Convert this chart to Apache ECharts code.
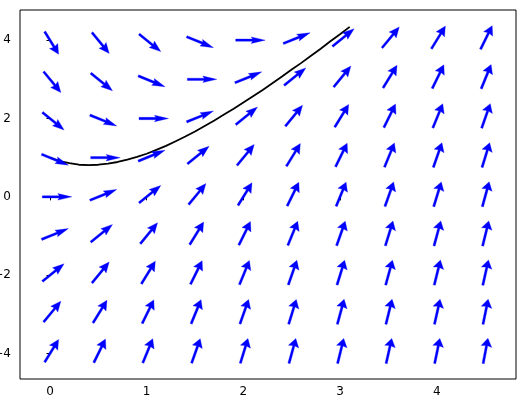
<!DOCTYPE html>
<html>
<head>
<meta charset="utf-8">
<script src="https://cdn.jsdelivr.net/npm/echarts@6/dist/echarts.min.js"></script>
<style>html,body{margin:0;padding:0;background:#fff}#c{width:520px;height:406px}</style>
</head>
<body>
<div id="c"></div>
<script>
// Grid of direction-field sample points
const gridX = [0, 0.5, 1, 1.5, 2, 2.5, 3, 3.5, 4, 4.5];
const gridY = [4, 3, 2, 1, 0, -1, -2, -3, -4];
// Slope (dy/dx) read at each grid point, one row per gridY value
const slopeRows = [
  [-4, -3, -2, -1, 0, 1, 2, 3, 4, 5],
  [-3, -2, -1, 0, 1, 2, 3, 4, 5, 6],
  [-2, -1, 0, 1, 2, 3, 4, 5, 6, 7],
  [-1, 0, 1, 2, 3, 4, 5, 6, 7, 8],
  [0, 1, 2, 3, 4, 5, 6, 7, 8, 9],
  [1, 2, 3, 4, 5, 6, 7, 8, 9, 10],
  [2, 3, 4, 5, 6, 7, 8, 9, 10, 11],
  [3, 4, 5, 6, 7, 8, 9, 10, 11, 12],
  [4, 5, 6, 7, 8, 9, 10, 11, 12, 13]
];
// Solution curve
const curveX = [0, 0.1, 0.2, 0.3, 0.4, 0.5, 0.6, 0.7, 0.8, 0.9, 1.0, 1.1, 1.2, 1.3, 1.4, 1.5, 1.6, 1.7, 1.8, 1.9, 2.0, 2.1, 2.2, 2.3, 2.4, 2.5, 2.6, 2.7, 2.8, 2.9, 3.0, 3.1];
const curveY = [1.00, 0.91, 0.86, 0.82, 0.81, 0.82, 0.85, 0.89, 0.95, 1.02, 1.10, 1.20, 1.30, 1.42, 1.54, 1.67, 1.81, 1.95, 2.10, 2.25, 2.41, 2.57, 2.73, 2.90, 3.07, 3.25, 3.42, 3.60, 3.78, 3.97, 4.15, 4.34];
const xTicks = [0, 1, 2, 3, 4];
const yTicks = [-4, -2, 0, 2, 4];

const arrowData = [];
gridY.forEach((y, i) => gridX.forEach((x, j) => arrowData.push([x, y, slopeRows[i][j]])));
const curveData = curveX.map((x, i) => [x, curveY[i]]);

const fmt = v => (v < 0 ? '\u2212' + (-v) : String(v));

function renderArrow(params, api) {
  const x = api.value(0), y = api.value(1), s = api.value(2);
  const p = api.coord([x, y]);
  const q = api.coord([x + 0.1, y + 0.1 * s]);
  let dx = q[0] - p[0], dy = q[1] - p[1];
  const m = Math.hypot(dx, dy);
  dx /= m; dy /= m;
  const c2 = dx * dx, sn = Math.abs(dy);
  const L = 25.5 + 4 * c2;
  const f = 0.26 + 0.14 * sn;
  const headLen = 8 + 6 * c2;
  const headW = 11 - 4.5 * c2;
  const hw = 1.15;
  const nx = -dy, ny = dx;
  const tail = [p[0] - dx * f * L, p[1] - dy * f * L];
  const tip = [p[0] + dx * (1 - f) * L, p[1] + dy * (1 - f) * L];
  const base = [tip[0] - dx * headLen, tip[1] - dy * headLen];
  const jn = [tip[0] - dx * headLen * 0.9, tip[1] - dy * headLen * 0.9];
  const pts = [
    [tail[0] + nx * hw, tail[1] + ny * hw],
    [jn[0] + nx * hw, jn[1] + ny * hw],
    [base[0] + nx * headW / 2, base[1] + ny * headW / 2],
    tip,
    [base[0] - nx * headW / 2, base[1] - ny * headW / 2],
    [jn[0] - nx * hw, jn[1] - ny * hw],
    [tail[0] - nx * hw, tail[1] - ny * hw]
  ];
  return {
    type: 'polygon',
    shape: { points: pts },
    style: { fill: '#0000ff', stroke: '#0000ff', lineWidth: 0.3 }
  };
}

const chart = echarts.init(document.getElementById('c'));
chart.setOption({
  animation: false,
  backgroundColor: '#fff',
  grid: { left: 20, right: 4, top: 10, bottom: 27, containLabel: false, outerBoundsMode: 'none', show: true, borderColor: '#000', borderWidth: 1, backgroundColor: 'transparent' },
  xAxis: {
    type: 'value', min: -0.31, max: 4.82,
    splitLine: { show: false },
    axisLine: { show: false },
    axisTick: { show: true, customValues: xTicks, length: 3.5, lineStyle: { color: '#000', width: 1 } },
    axisLabel: { customValues: xTicks, formatter: fmt, color: '#000', fontFamily: 'DejaVu Sans', fontSize: 12, margin: 7 }
  },
  yAxis: {
    type: 'value', min: -4.65, max: 4.77,
    splitLine: { show: false },
    axisLine: { show: false },
    axisTick: { show: true, customValues: yTicks, length: 3.5, lineStyle: { color: '#000', width: 1 } },
    axisLabel: { customValues: yTicks, formatter: fmt, color: '#000', fontFamily: 'DejaVu Sans', fontSize: 12, margin: 9 }
  },
  series: [
    {
      type: 'line', data: curveData, showSymbol: false, symbol: 'none',
      lineStyle: { color: '#000', width: 1.8 }, z: 2
    },
    {
      type: 'custom', data: arrowData, renderItem: renderArrow, z: 3,
      encode: { x: 0, y: 1 }
    }
  ]
});
</script>
</body>
</html>
